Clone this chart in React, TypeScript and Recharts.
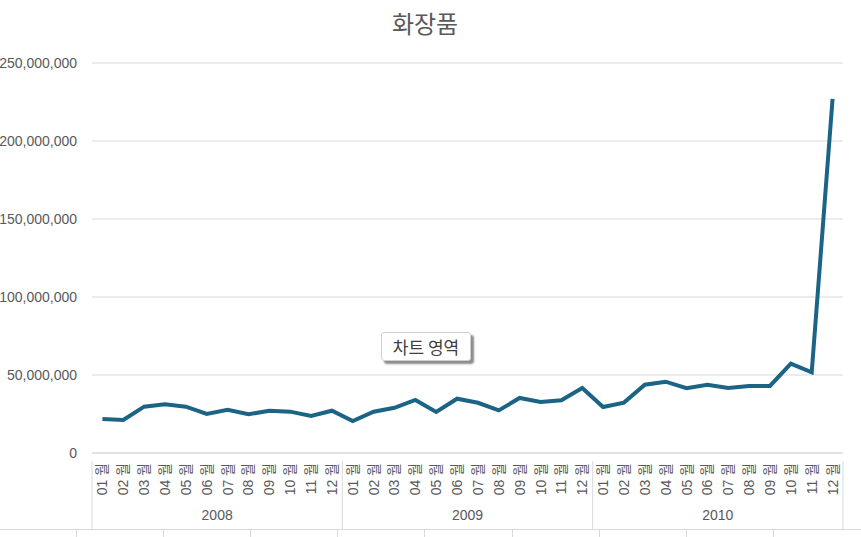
import { LineChart, Line, XAxis, YAxis, CartesianGrid } from 'recharts'

const months = ['01', '02', '03', '04', '05', '06', '07', '08', '09', '10', '11', '12']
const years = ['2008', '2009', '2010']

// monthly sales, millions
const sales2008 = [21.8, 21.2, 29.7, 31.2, 29.7, 25.0, 27.7, 24.8, 27.1, 26.5, 23.7, 27.1]
const sales2009 = [20.5, 26.5, 29.0, 34.0, 26.3, 34.8, 32.2, 27.3, 35.3, 32.7, 33.8, 41.7]
const sales2010 = [29.5, 32.3, 43.8, 45.7, 41.5, 43.8, 41.7, 43.0, 43.0, 57.3, 51.7, 227.0]

const yTicks = [0, 50000000, 100000000, 150000000, 200000000, 250000000]

const allSales = [sales2008, sales2009, sales2010]
const data = years.flatMap((yr, yi) =>
  months.map((m, mi) => ({
    month: m,
    year: yr,
    idx: yi * 12 + mi + 0.5,
    value: Math.round(allSales[yi][mi] * 1000000),
  }))
)

const monthTicks = data.map(d => d.idx)
const yearTicks = [0, 6, 12, 18, 24, 30, 36]

const FONT = '"Liberation Sans", Arial, "Noto Sans CJK KR", sans-serif'
const GRAY = '#595959'
const LINE = '#1b6485'

function MonthTick({ x, y, payload }: any) {
  const m = months[Math.floor(payload.value) % 12]
  const ty = y + 2
  return (
    <text
      x={x}
      y={ty}
      transform={`rotate(-90, ${x}, ${ty})`}
      textAnchor="end"
      dominantBaseline="central"
      fontSize={14}
      fill={GRAY}
      fontFamily={FONT}
    >
      {m} 월
    </text>
  )
}

function YearTick({ x, y, payload }: any) {
  const v = payload.value
  if (v % 12 === 0) {
    return <line x1={x} x2={x} y1={y - 50} y2={y + 19} stroke="#d9d9d9" strokeWidth={1} />
  }
  return (
    <text x={x} y={y + 4} textAnchor="middle" dominantBaseline="central" fontSize={14} fill={GRAY} fontFamily={FONT}>
      {years[Math.floor(v / 12)]}
    </text>
  )
}

export default function App() {
  return (
    <div style={{ position: 'absolute', left: 0, top: 0, width: 861, height: 537, background: '#fff', overflow: 'hidden', fontFamily: FONT }}>
      <div style={{ position: 'absolute', top: 5, left: 0, width: 850, textAlign: 'center', fontSize: 24, color: GRAY, fontFamily: '"Noto Sans CJK KR", sans-serif' }}>
        화장품
      </div>
      <LineChart width={861} height={537} data={data} margin={{ top: 63, right: 18, left: 0, bottom: 0 }}>
        <CartesianGrid horizontal vertical={false} stroke="#d9d9d9" />
        <XAxis
          dataKey="idx"
          type="number"
          domain={[0, 36]}
          ticks={monthTicks}
          interval={0}
          height={50}
          axisLine={{ stroke: '#d9d9d9' }}
          tickLine={false}
          tick={<MonthTick />}
        />
        <XAxis
          xAxisId="year"
          dataKey="idx"
          type="number"
          domain={[0, 36]}
          ticks={yearTicks}
          interval={0}
          height={34}
          axisLine={false}
          tickLine={false}
          tick={<YearTick />}
        />
        <YAxis
          domain={[0, 250000000]}
          ticks={yTicks}
          width={92}
          axisLine={false}
          tickLine={false}
          tickMargin={9}
          tick={{ fill: GRAY, fontSize: 14, fontFamily: FONT }}
          tickFormatter={(v: number) => v.toLocaleString('en-US')}
        />
        <Line type="linear" dataKey="value" stroke={LINE} strokeWidth={4} dot={false} isAnimationActive={false} />
      </LineChart>
      <div style={{
        position: 'absolute', left: 381, top: 332, width: 88, height: 27, background: '#fff',
        border: '1px solid #d0d0d0', borderRadius: 3, boxShadow: '3px 3px 2px rgba(0,0,0,0.45)',
        fontSize: 17, color: '#404040', textAlign: 'center', lineHeight: '27px', fontFamily: '"Noto Sans CJK KR", sans-serif',
      }}>
        차트 영역
      </div>
      <div style={{ position: 'absolute', left: 0, top: 529, width: 861, height: 8, borderTop: '1px solid #d9d9d9', display: 'flex' }}>
        {Array.from({ length: 10 }).map((_, i) => (
          <div key={i} style={{ width: 88, height: 8, borderRight: i < 9 ? '1px solid #d9d9d9' : 'none', boxSizing: 'border-box', marginLeft: i === 0 ? -10 : 0 }} />
        ))}
      </div>
    </div>
  )
}
